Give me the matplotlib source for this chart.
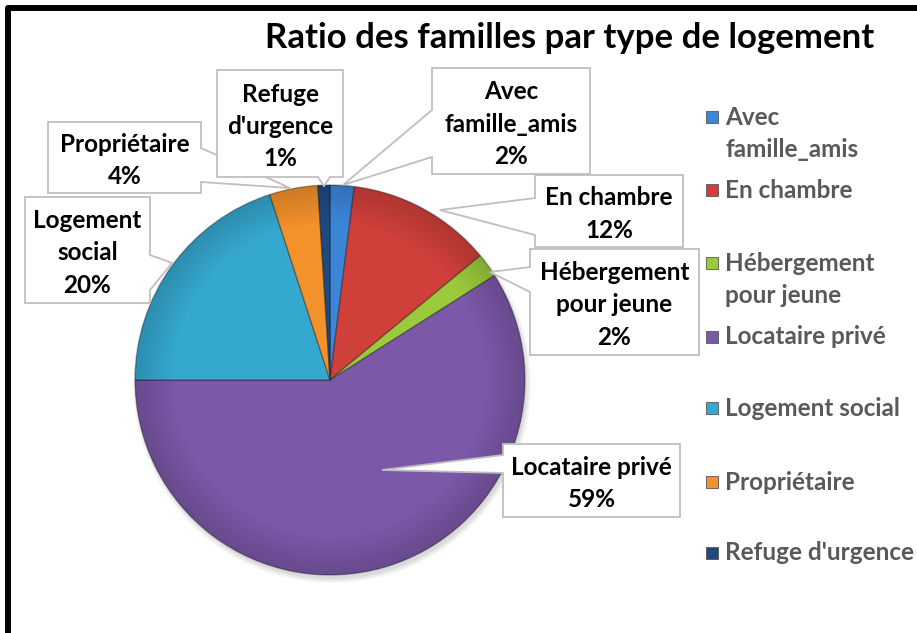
import numpy as np
import matplotlib
matplotlib.use("Agg")
import matplotlib.pyplot as plt
from matplotlib.patches import Polygon, Rectangle, Circle

# ── Data ──────────────────────────────────────────────────────────────────────
categories = ["Avec famille_amis", "En chambre", "Hébergement pour jeune",
              "Locataire privé", "Logement social", "Propriétaire",
              "Refuge d'urgence"]
percents = [2, 12, 2, 59, 20, 4, 1]
label_texts = ["Avec\nfamille_amis", "En chambre", "Hébergement\npour jeune",
               "Locataire privé", "Logement\nsocial", "Propriétaire",
               "Refuge\nd'urgence"]
legend_texts = ["Avec\nfamille_amis", "En chambre", "Hébergement\npour jeune",
                "Locataire privé", "Logement social", "Propriétaire",
                "Refuge d'urgence"]
colors = ["#3C86D8", "#D0403A", "#9BCB3C", "#7B58A8", "#35A8D0",
          "#F3912A", "#1F4A80"]
title = "Ratio des familles par type de logement"

W, H = 917, 633
FONT = "Lato"
FS = 17.5

# ── Layout (pixel coords, y down) ─────────────────────────────────────────────
PIE_C = (330, 380)
PIE_R = 195

# box (x0, y0, x1, y1), pointer side, base span on that side, tip
callouts = [
    ((432, 68, 590, 174), "left",   (110, 157), (343, 185)),
    ((535, 175, 683, 247), "left",  (198, 235), (440, 210)),
    ((530, 249, 699, 355), "left",  (267, 292), (490, 272)),
    ((503, 444, 680, 517), "left",  (455, 473), (382, 470)),
    ((25, 197, 150, 303), "right",  (255, 290), (172, 263)),
    ((48, 122, 201, 193), "right",  (148, 182), (290, 188)),
    ((217, 70, 343, 177), "bottom", (318, 330), (324, 186)),
]

legend_y = [117, 190, 263, 337, 408, 482, 553]


def callout_polygon(box, side, base, tip):
    x0, y0, x1, y1 = box
    a, b = sorted(base)
    if side == "top":
        pts = [(x0, y0), (a, y0), tip, (b, y0), (x1, y0), (x1, y1), (x0, y1)]
    elif side == "right":
        pts = [(x0, y0), (x1, y0), (x1, a), tip, (x1, b), (x1, y1), (x0, y1)]
    elif side == "bottom":
        pts = [(x0, y0), (x1, y0), (x1, y1), (b, y1), tip, (a, y1), (x0, y1)]
    else:
        pts = [(x0, y0), (x1, y0), (x1, y1), (x0, y1), (x0, b), tip, (x0, a)]
    return pts


fig = plt.figure(figsize=(W / 100, H / 100), dpi=100)
ax = fig.add_axes([0, 0, 1, 1])

# soft shadow under the pie
for k, a in enumerate([0.04, 0.05, 0.06]):
    ax.add_patch(Circle((PIE_C[0] + 2, PIE_C[1] + 4), PIE_R + 4 - k * 2,
                        facecolor="black", alpha=a, lw=0, zorder=1))

# pie: visually clockwise from 12 o'clock (y axis is inverted)
wedges, _ = ax.pie(percents, colors=colors, startangle=-90, counterclock=True,
                   center=PIE_C, radius=PIE_R, frame=True,
                   wedgeprops=dict(edgecolor=(0, 0, 0, 0.3), linewidth=1))
for w in wedges:
    w.set_zorder(2)

# subtle bevel: darken towards the rim
n = 400
gx, gy = np.meshgrid(np.linspace(-1, 1, n), np.linspace(-1, 1, n))
r = np.sqrt(gx ** 2 + gy ** 2)
shade = np.zeros((n, n, 4))
shade[..., 3] = np.clip(0.16 * (r - 0.8) / 0.2, 0, 0.16)
img = ax.imshow(shade, extent=(PIE_C[0] - PIE_R, PIE_C[0] + PIE_R,
                               PIE_C[1] + PIE_R, PIE_C[1] - PIE_R),
                zorder=2.5, interpolation="bilinear")
clip = Circle(PIE_C, PIE_R, transform=ax.transData)
img.set_clip_path(clip)

# callout labels
for (box, side, base, tip), txt, pct in zip(callouts, label_texts, percents):
    poly = Polygon(callout_polygon(box, side, base, tip), closed=True,
                   facecolor="white", edgecolor="#BFBFBF", lw=1.3, zorder=3)
    ax.add_patch(poly)
    cx = (box[0] + box[2]) / 2
    cy = (box[1] + box[3]) / 2
    ax.text(cx, cy + 3, f"{txt}\n{pct}%", ha="center", va="center",
            fontsize=FS, fontweight="bold", family=FONT, color="black",
            linespacing=1.5, zorder=4)

# legend
for y, txt, c in zip(legend_y, legend_texts, colors):
    ax.add_patch(Rectangle((706, y - 6), 12, 12, facecolor=c,
                           edgecolor="#555555", lw=0.6, zorder=3))
    ty = y + 16.5 if "\n" in txt else y
    ax.text(725, ty, txt, ha="left", va="center",
            fontsize=FS, fontweight="bold", family=FONT, color="#595959",
            linespacing=1.5, zorder=4)

ax.text(570, 38, title, ha="center", va="center", fontsize=25,
        fontweight="bold", family=FONT, color="black")

# outer frame (right and bottom edges are cut off in the original)
ax.plot([8, 8, W + 10], [H + 10, 7.5, 7.5], color="black", lw=4.3,
        solid_capstyle="projecting", clip_on=False)

ax.set_xlim(0, W)
ax.set_ylim(H, 0)
ax.set_aspect("equal")
ax.axis("off")

fig.savefig("out.png", dpi=100)
